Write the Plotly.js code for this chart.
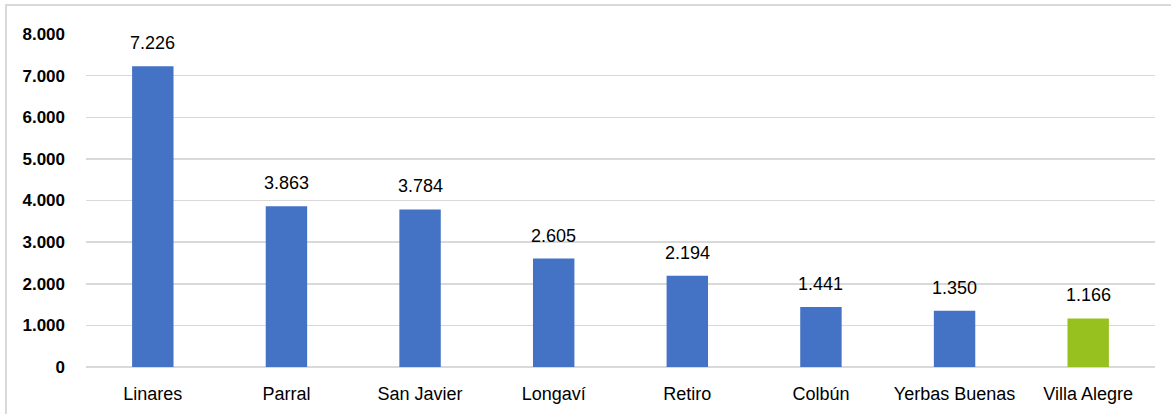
<!DOCTYPE html>
<html>
<head>
<meta charset="utf-8">
<script src="https://cdn.plot.ly/plotly-3.0.1.min.js"></script>
<style>
  html, body { margin: 0; padding: 0; background: #fff; overflow: hidden; width: 1171px; height: 414px; }
  #frame { position: absolute; left: 5px; top: 4px; width: 1166px; height: 410px; border-top: 2px solid #d9d9d9; border-left: 2px solid #d9d9d9; box-sizing: border-box; }
  #chart { position: absolute; left: 0; top: 0; width: 1171px; height: 414px; }
</style>
</head>
<body>
<div id="frame"></div>
<div id="chart"></div>
<script>
const categories = ["Linares", "Parral", "San Javier", "Longaví", "Retiro", "Colbún", "Yerbas Buenas", "Villa Alegre"];
const values = [7226, 3863, 3784, 2605, 2194, 1441, 1350, 1166];
const barColors = ["#4472C4", "#4472C4", "#4472C4", "#4472C4", "#4472C4", "#4472C4", "#4472C4", "#96C11F"];
const yTicks = [0, 1000, 2000, 3000, 4000, 5000, 6000, 7000, 8000];

const FONT = "'Liberation Sans', Arial, sans-serif";

function fmt(v) {
  return String(v).replace(/\B(?=(\d{3})+(?!\d))/g, ".");
}

const trace = {
  type: "bar",
  x: categories,
  y: values,
  marker: { color: barColors, line: { width: 0 } },
  hoverinfo: "skip"
};

const annotations = categories.map((c, i) => ({
  x: c, y: values[i], xref: "x", yref: "y",
  text: fmt(values[i]),
  showarrow: false,
  yanchor: "bottom",
  yshift: 11,
  font: { family: FONT, size: 18, color: "#000" }
}));

const layout = {
  width: 1171, height: 414,
  margin: { l: 86, r: 16, t: 34, b: 47, pad: 0 },
  paper_bgcolor: "rgba(0,0,0,0)",
  plot_bgcolor: "rgba(0,0,0,0)",
  separators: ",.",
  showlegend: false,
  bargap: 0.69,
  xaxis: {
    type: "category",
    showgrid: false,
    showline: false,
    zeroline: false,
    ticks: "",
    ticklabelstandoff: 14,
    tickfont: { family: FONT, size: 18, color: "#000" },
    fixedrange: true
  },
  yaxis: {
    range: [0, 8000],
    tickvals: yTicks,
    ticktext: yTicks.map(fmt),
    showgrid: true,
    gridcolor: "#d9d9d9",
    gridwidth: 1.5,
    zeroline: true,
    zerolinecolor: "#d9d9d9",
    zerolinewidth: 1.5,
    showline: false,
    ticks: "",
    ticklabelstandoff: 20,
    tickfont: { family: FONT, size: 17, color: "#000", weight: "bold" },
    fixedrange: true
  },
  annotations: annotations
};

Plotly.newPlot("chart", [trace], layout, { displayModeBar: false, staticPlot: true });
</script>
</body>
</html>
